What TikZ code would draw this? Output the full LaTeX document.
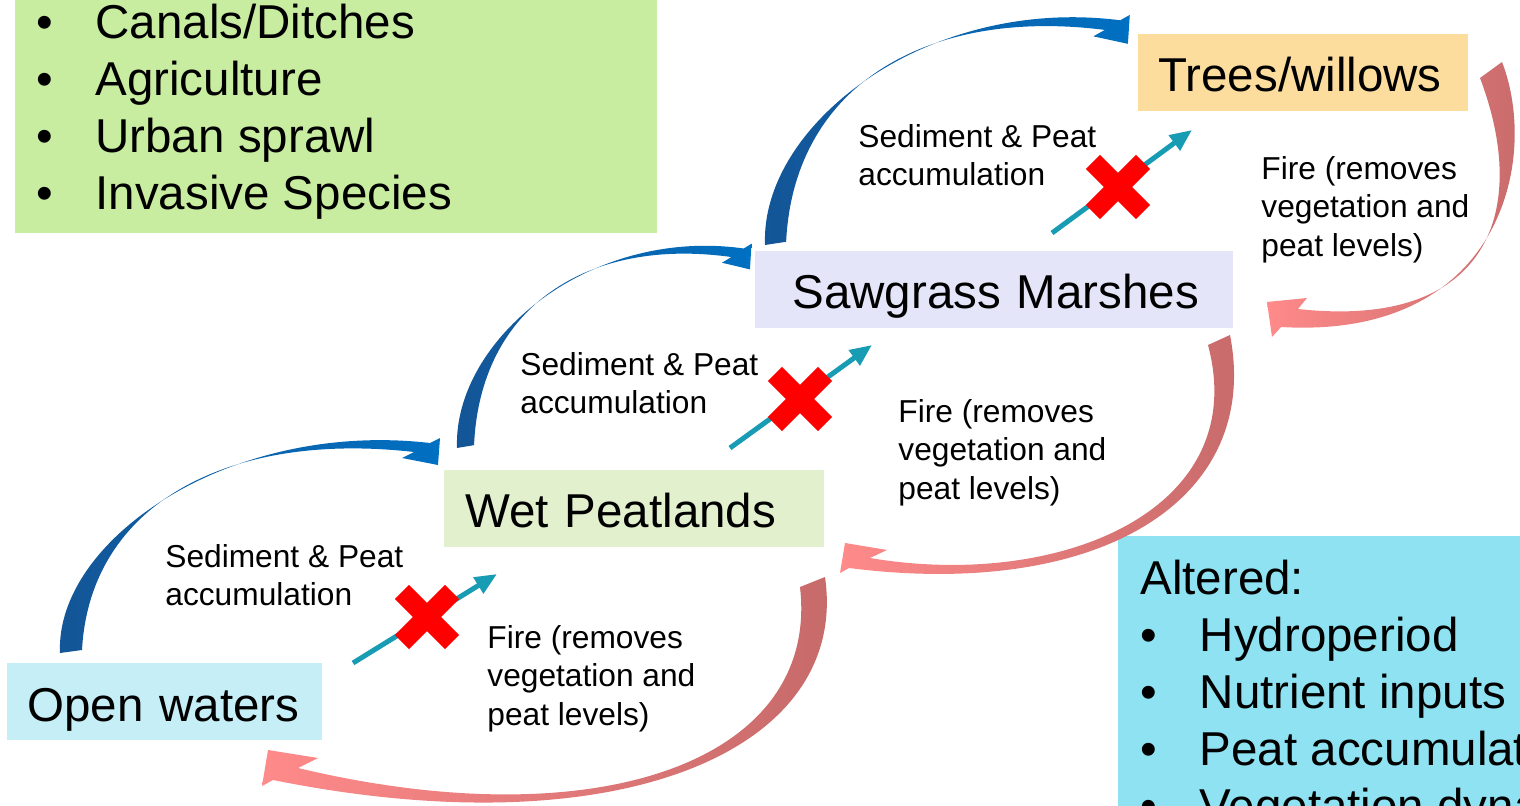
\documentclass[tikz,border=0pt]{standalone}
\usepackage{fontspec}
\setmainfont{Liberation Sans}
\usetikzlibrary{arrows.meta}
\definecolor{gbox}{RGB}{200,236,160}
\definecolor{tbox}{RGB}{253,221,158}
\definecolor{sbox}{RGB}{229,229,250}
\definecolor{wbox}{RGB}{226,240,206}
\definecolor{obox}{RGB}{198,238,246}
\definecolor{abox}{RGB}{142,226,242}
\definecolor{bluedark}{RGB}{20,85,150}
\definecolor{bluelight}{RGB}{0,112,194}
\definecolor{reddark}{RGB}{197,105,105}
\definecolor{redlight}{RGB}{255,138,138}
\definecolor{tealc}{RGB}{24,156,180}
\definecolor{xred}{RGB}{255,0,0}
\newcommand{\lbul}{\makebox[29.7pt][l]{•}}
\begin{document}
\begin{tikzpicture}[x=0.5pt,y=-0.5pt,
  panel/.style={draw=none, inner sep=0pt, anchor=north west},
  statebox/.style={font=\fontsize{23.75pt}{28.5pt}\selectfont, anchor=west, inner xsep=0pt, inner ysep=0pt, align=left, minimum height=38.5pt, text height=19.5pt, text depth=0pt},
  listtext/.style={font=\fontsize{23.75pt}{28.5pt}\selectfont, anchor=north west, inner sep=0pt, align=left},
  lbl/.style={font=\fontsize{15.85pt}{19.25pt}\selectfont, anchor=north west, inner sep=0pt, align=left},
  tealarrow/.style={draw=tealc, line width=2.5pt, -{Triangle[length=11pt,width=9pt]}},
  blueband/.style={left color=bluedark, right color=bluelight},
  redband/.style={left color=redlight, right color=reddark},
  canon/.style={insert path={(0,0) .. controls (-5,-113) and (170,-233) .. (370,-210) -- (380,-215) -- (378,-188) -- (342,-195) -- (354,-201) .. controls (170,-222) and (30,-150) .. (22,-3) -- cycle}},
  xmark/.pic={
    \fill[xred, rotate=45] (-35.5,-10) -- (35.5,-10) -- (35.5,10) -- (-35.5,10) -- cycle;
    \fill[xred, rotate=-45] (-35.5,-10) -- (35.5,-10) -- (35.5,10) -- (-35.5,10) -- cycle;
  }
]
\useasboundingbox (0,0) rectangle (1520,806);
\clip (0,0) rectangle (1520,806);

% side panels
\node[panel, fill=gbox, minimum width=321pt, minimum height=160pt, anchor=south west] (threatbox) at (15,233) {};
\node[listtext] (threats) at (35.7,4) {\lbul Canals/Ditches\\\lbul Agriculture\\\lbul Urban sprawl\\\lbul Invasive Species};
\node[panel, fill=abox, minimum width=220pt, minimum height=150pt] (alteredbox) at (1118,536) {};
\node[listtext] (altered) at (1140,560) {Altered:\\\lbul Hydroperiod\\\lbul Nutrient inputs\\\lbul Peat accumulation\\\lbul Vegetation dynamics};

% state boxes
\node[statebox, fill=tbox, text width=165pt] (trees) at (1138,72.5) {\hspace*{10pt}Trees/willows};
\node[statebox, fill=sbox, text width=239pt] (saw) at (755,289.5) {\hspace*{18.5pt}Sawgrass Marshes};
\node[statebox, fill=wbox, text width=190pt] (wet) at (444,508.5) {\hspace*{10.5pt}Wet Peatlands};
\node[statebox, fill=obox, text width=157.5pt] (open) at (7,701.5) {\hspace*{10pt}Open waters};

% blue succession arrows
\shade[blueband, shift={(60,653)}, canon];
\shade[blueband, shift={(457,448)}, xscale=0.775, yscale=0.95, canon];
\shade[blueband, shift={(765,245)}, xscale=0.96, yscale=1.07, canon];

% red fire arrows
\shade[redband] (825,577) .. controls (850,750) and (620,850) .. (273,780) -- (262,786) -- (268,750) -- (318,758) -- (298,768) .. controls (600,840) and (820,760) .. (800,587) -- cycle;
\shade[redband] (1230,335) .. controls (1262,500) and (1100,600) .. (849,568) -- (840,573) -- (845,543) -- (887,550) -- (870,558) .. controls (1060,590) and (1252,510) .. (1208,345) -- cycle;
\shade[redband] (1502,62) .. controls (1540,160) and (1500,340) .. (1281,327) -- (1272,337) -- (1267,302) -- (1307,298) -- (1298,309) .. controls (1490,330) and (1530,210) .. (1480,78) -- cycle;

% blocked transitions
\coordinate (t1a) at (353,663); \coordinate (t1b) at (497,574);
\coordinate (t2a) at (730,448); \coordinate (t2b) at (872,345);
\coordinate (t3a) at (1052,233); \coordinate (t3b) at (1192,130);
\draw[tealarrow] (t1a) -- (t1b);
\draw[tealarrow] (t2a) -- (t2b);
\draw[tealarrow] (t3a) -- (t3b);
\pic (x1) at (427,617) {xmark};
\pic (x2) at (800,399) {xmark};
\pic (x3) at (1118,187) {xmark};

% labels
\node[lbl] (sed1) at (165,544) {Sediment \& Peat\\accumulation};
\node[lbl] (sed2) at (520,352) {Sediment \& Peat\\accumulation};
\node[lbl] (sed3) at (858,124) {Sediment \& Peat\\accumulation};
\node[lbl] (fire1) at (487,625) {Fire (removes\\vegetation and\\peat levels)};
\node[lbl] (fire2) at (898,399) {Fire (removes\\vegetation and\\peat levels)};
\node[lbl] (fire3) at (1261,156) {Fire (removes\\vegetation and\\peat levels)};
\end{tikzpicture}
\end{document}
